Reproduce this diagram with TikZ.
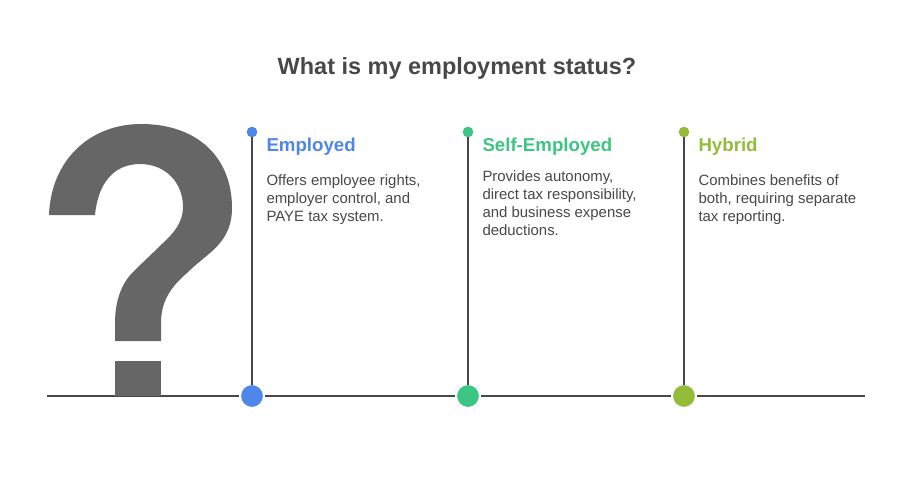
\documentclass[tikz,border=0pt]{standalone}
\usepackage{fontspec}
\setmainfont{Liberation Sans}
\definecolor{inkgrey}{HTML}{484848}
\definecolor{markgrey}{HTML}{666666}
\definecolor{empblue}{HTML}{4E86EA}
\definecolor{selfgreen}{HTML}{3CC583}
\definecolor{hybridolive}{HTML}{93BC38}
\tikzset{every picture/.style={line width=0.75pt}}
\tikzset{
  toplabel/.style={anchor=north west,inner sep=0pt,align=left,font=\bfseries\fontsize{14}{17}\selectfont},
  bodytext/.style={anchor=north west,inner sep=0pt,align=left,text=inkgrey,font=\fontsize{11.2}{13.5}\selectfont},
  topdot/.style={circle,inner sep=0pt,outer sep=0pt,minimum size=8pt,fill=#1},
  basedot/.style={circle,inner sep=0pt,outer sep=0pt,minimum size=18pt,fill=#1,draw=white,line width=1.5pt},
  timeline/.style={draw=inkgrey,line width=1.5pt},
  stemline/.style={timeline,shorten >=-0.75pt}
}
\begin{document}
\begin{tikzpicture}[x=0.75pt,y=0.75pt,yscale=-1,xscale=1]
	\useasboundingbox (0,0) rectangle (912,479);
	
	\coordinate (axisleft) at (47,396);
	\coordinate (axisright) at (865,396);
	\draw [timeline] (axisleft) -- (axisright) ;
	
	%Shape: Question mark
	\fill [markgrey] (49,215) .. controls (51,160) and (90,124) .. (141,124) .. controls (197,124) and (232,157) .. (232,208) .. controls (232,228) and (224,241) .. (210,253) .. controls (203,259) and (194,266) .. (187,273) .. controls (172,286) and (161,300) .. (161,323) -- (161,341) -- (115,341) -- (115,323) .. controls (115,300) and (122,283) .. (133,272) .. controls (143,262) and (153,253) .. (163,243) .. controls (174,233) and (183,222) .. (183,207) .. controls (183,183) and (166,164) .. (140,164) .. controls (114,164) and (98,183) .. (95,215) -- cycle ;
	\fill [markgrey] (115,361) -- (161,361) -- (161,396) -- (115,396) -- cycle ;
	
	\draw (252,132) node (employedtop) [topdot=empblue] {};
	\draw (252,396) node (employedbase) [basedot=empblue] {};
	\draw (468,132) node (selftop) [topdot=selfgreen] {};
	\draw (468,396) node (selfbase) [basedot=selfgreen] {};
	\draw (684,132) node (hybridtop) [topdot=hybridolive] {};
	\draw (684,396) node (hybridbase) [basedot=hybridolive] {};
	
	\draw [stemline] (employedtop) -- (employedbase) ;
	\draw [stemline] (selftop) -- (selfbase) ;
	\draw [stemline] (hybridtop) -- (hybridbase) ;
	
	\draw (457,68) node (title) [inner sep=0pt,text=inkgrey,font=\bfseries\fontsize{17.6}{22}\selectfont] {What is my employment status?};
	
	\draw (266,137) node (employedhead) [toplabel,text=empblue] {Employed};
	\draw (482,137) node (selfhead) [toplabel,text=selfgreen] {Self-Employed};
	\draw (698,137) node (hybridhead) [toplabel,text=hybridolive] {Hybrid};
	
	\draw (266,174) node (employedtext) [bodytext] {Offers employee rights,\\employer control, and\\PAYE tax system.};
	\draw (482,170) node (selftext) [bodytext] {Provides autonomy,\\direct tax responsibility,\\and business expense\\deductions.};
	\draw (698,174) node (hybridtext) [bodytext] {Combines benefits of\\both, requiring separate\\tax reporting.};
\end{tikzpicture}
\end{document}
